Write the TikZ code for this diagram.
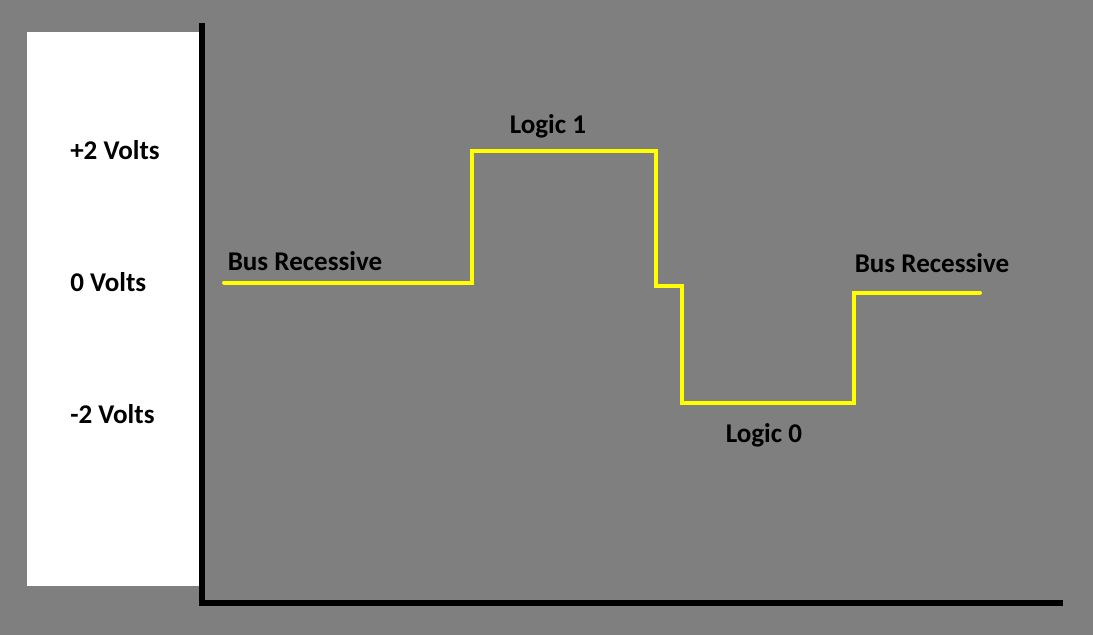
\documentclass[tikz,border=0pt]{standalone}
\usepackage{fontspec}
\setmainfont{Carlito}
\definecolor{bggray}{RGB}{127,127,127}
\definecolor{sigyellow}{RGB}{255,255,0}
\begin{document}
\begin{tikzpicture}[x=0.75pt,y=-0.75pt,
  lbl/.style={font=\bfseries\fontsize{20.3pt}{24pt}\selectfont, text=black, inner sep=0pt, anchor=base west},
  axisline/.style={draw=black, line width=4.2pt},
  signal/.style={draw=sigyellow, line width=3pt, line join=miter, line cap=round}]
\fill[bggray] (0,0) rectangle (1093,635);
\useasboundingbox (0,0) rectangle (1093,635);
% white label panel
\fill[white] (27,32) rectangle (199,586);
% axes
\coordinate (ytop) at (202,23);
\coordinate (origin) at (202,603);
\coordinate (xend) at (1063,603);
\draw[axisline] (ytop) -- (origin) -- (xend);
% voltage labels
\node[lbl] (v2) at (70,160) {+2 Volts};
\node[lbl] (v0) at (70,291.5) {0 Volts};
\node[lbl] (vm2) at (70,423) {-2 Volts};
% signal
\coordinate (s0) at (224,282.5);
\coordinate (s1) at (471.5,282.5);
\coordinate (s2) at (471.5,151);
\coordinate (s3) at (655.5,151);
\coordinate (s4) at (655.5,286);
\coordinate (s5) at (681.5,286);
\coordinate (s6) at (681.5,402.5);
\coordinate (s7) at (853.5,402.5);
\coordinate (s8) at (853.5,292.5);
\coordinate (s9) at (980,292.5);
\draw[signal] (s0) -- (s1) -- (s2) -- (s3) -- (s4) -- (s5) -- (s6) -- (s7) -- (s8) -- (s9);
% signal labels
\node[lbl] (br1) at (227.5,270) {Bus Recessive};
\node[lbl] (l1) at (509.5,133.5) {Logic 1};
\node[lbl] (l0) at (725.5,442.5) {Logic 0};
\node[lbl] (br2) at (854.5,272.5) {Bus Recessive};
\end{tikzpicture}
\end{document}
